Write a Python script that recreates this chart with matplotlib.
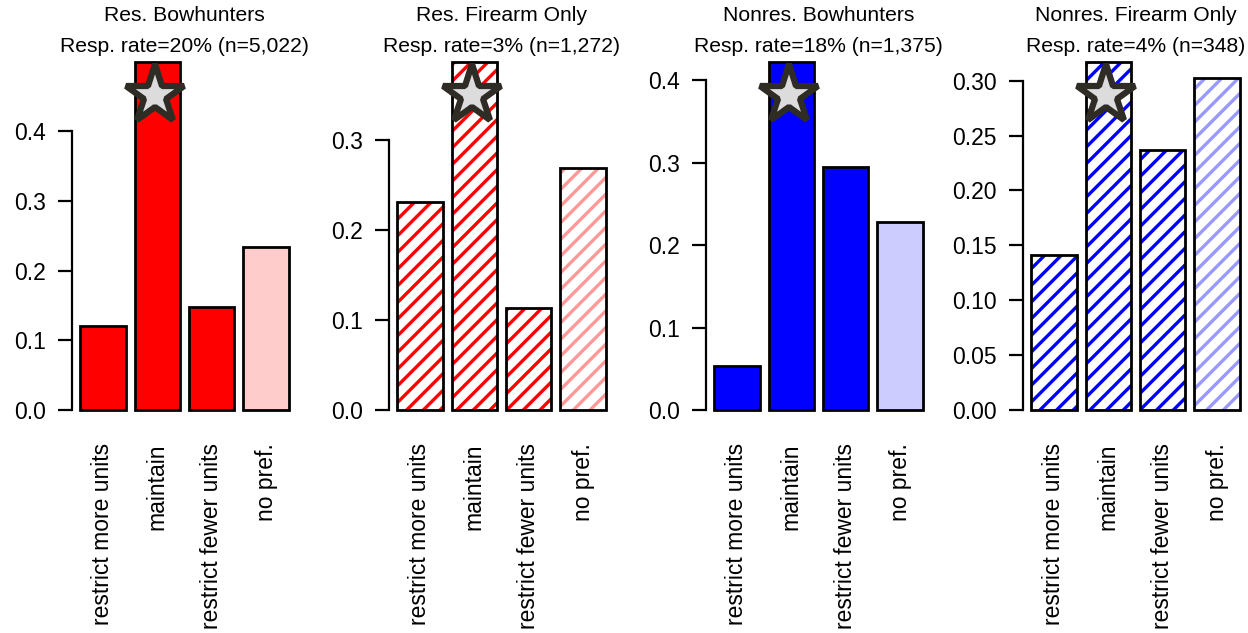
import numpy as np
import matplotlib.pyplot as plt
from matplotlib import transforms

plt.rcParams['font.family'] = ['Liberation Sans', 'DejaVu Sans']
plt.rcParams['hatch.linewidth'] = 2.4

# =============================================================================
# DATA
# =============================================================================
categories = ['restrict more units', 'maintain', 'restrict fewer units', 'no pref.']

titles = ['Res. Bowhunters', 'Res. Firearm Only',
          'Nonres. Bowhunters', 'Nonres. Firearm Only']
subtitles = ['Resp. rate=20% (n=5,022)', 'Resp. rate=3% (n=1,272)',
             'Resp. rate=18% (n=1,375)', 'Resp. rate=4% (n=348)']

res_bow = [0.120, 0.499, 0.148, 0.234]
res_fire = [0.231, 0.387, 0.113, 0.269]
nonres_bow = [0.053, 0.422, 0.295, 0.228]
nonres_fire = [0.141, 0.317, 0.237, 0.302]

yticks = [
    [0.0, 0.1, 0.2, 0.3, 0.4],
    [0.0, 0.1, 0.2, 0.3],
    [0.0, 0.1, 0.2, 0.3, 0.4],
    [0.00, 0.05, 0.10, 0.15, 0.20, 0.25, 0.30],
]
ytick_fmt = ['%.1f', '%.1f', '%.1f', '%.2f']

panels = [res_bow, res_fire, nonres_bow, nonres_fire]
main_col = ['#ff0000', '#ff0000', '#0000ff', '#0000ff']
light_col = ['#ffcccc', '#ff9999', '#ccccff', '#9999ff']
hatched = [False, True, False, True]

# =============================================================================
# LAYOUT (pixels)
# =============================================================================
W, H = 1248, 633
fig = plt.figure(figsize=(W / 100, H / 100), dpi=100)

lefts = [72, 389, 706, 1023]
ax_w = 225
ax_bottom = 410
ax_top = 62

xpos = np.array([0.7, 1.9, 3.1, 4.3])

for i, vals in enumerate(panels):
    ax = fig.add_axes([lefts[i] / W, (H - ax_bottom) / H, ax_w / W, (ax_bottom - ax_top) / H])
    colors = [main_col[i]] * 3 + [light_col[i]]
    if hatched[i]:
        ax.bar(xpos, vals, width=1.0, color='white', edgecolor=colors, hatch='//',
               linewidth=0, clip_on=False)
        ax.bar(xpos, vals, width=1.0, fill=False, edgecolor='black', linewidth=2,
               clip_on=False)
    else:
        ax.bar(xpos, vals, width=1.0, color=colors, edgecolor='black', linewidth=2,
               clip_on=False)

    ax.set_xlim(0.016, 4.984)
    ax.set_ylim(0, max(vals))

    for s in ['top', 'right', 'bottom']:
        ax.spines[s].set_visible(False)
    ax.spines['left'].set_linewidth(1.6)
    ax.spines['left'].set_bounds(yticks[i][0], yticks[i][-1])
    ax.set_yticks(yticks[i])
    ax.set_yticklabels([ytick_fmt[i] % t for t in yticks[i]], fontsize=16.5)
    ax.tick_params(axis='y', length=10, width=1.6, pad=9)

    ax.set_xticks(xpos)
    ax.set_xticklabels(categories, rotation=90, fontsize=16.5, va='top', ha='center')
    ax.tick_params(axis='x', length=0, pad=24)

    # star on the preferred option
    best = int(np.argmax(vals))
    trans = transforms.blended_transform_factory(ax.transData, ax.transAxes)
    ax.plot([xpos[best] - 0.05], [0.905], marker='*', markersize=44, markerfacecolor='#dcdcdc',
            markeredgecolor='#2f2c25', markeredgewidth=4.5, transform=trans, clip_on=False)

    cx = (lefts[i] + ax_w / 2) / W
    fig.text(cx, 1 - 21 / H, titles[i], ha='center', va='baseline', fontsize=15.2)
    fig.text(cx, 1 - 52 / H, subtitles[i], ha='center', va='baseline', fontsize=15.2)

fig.savefig('out.png', dpi=100)
